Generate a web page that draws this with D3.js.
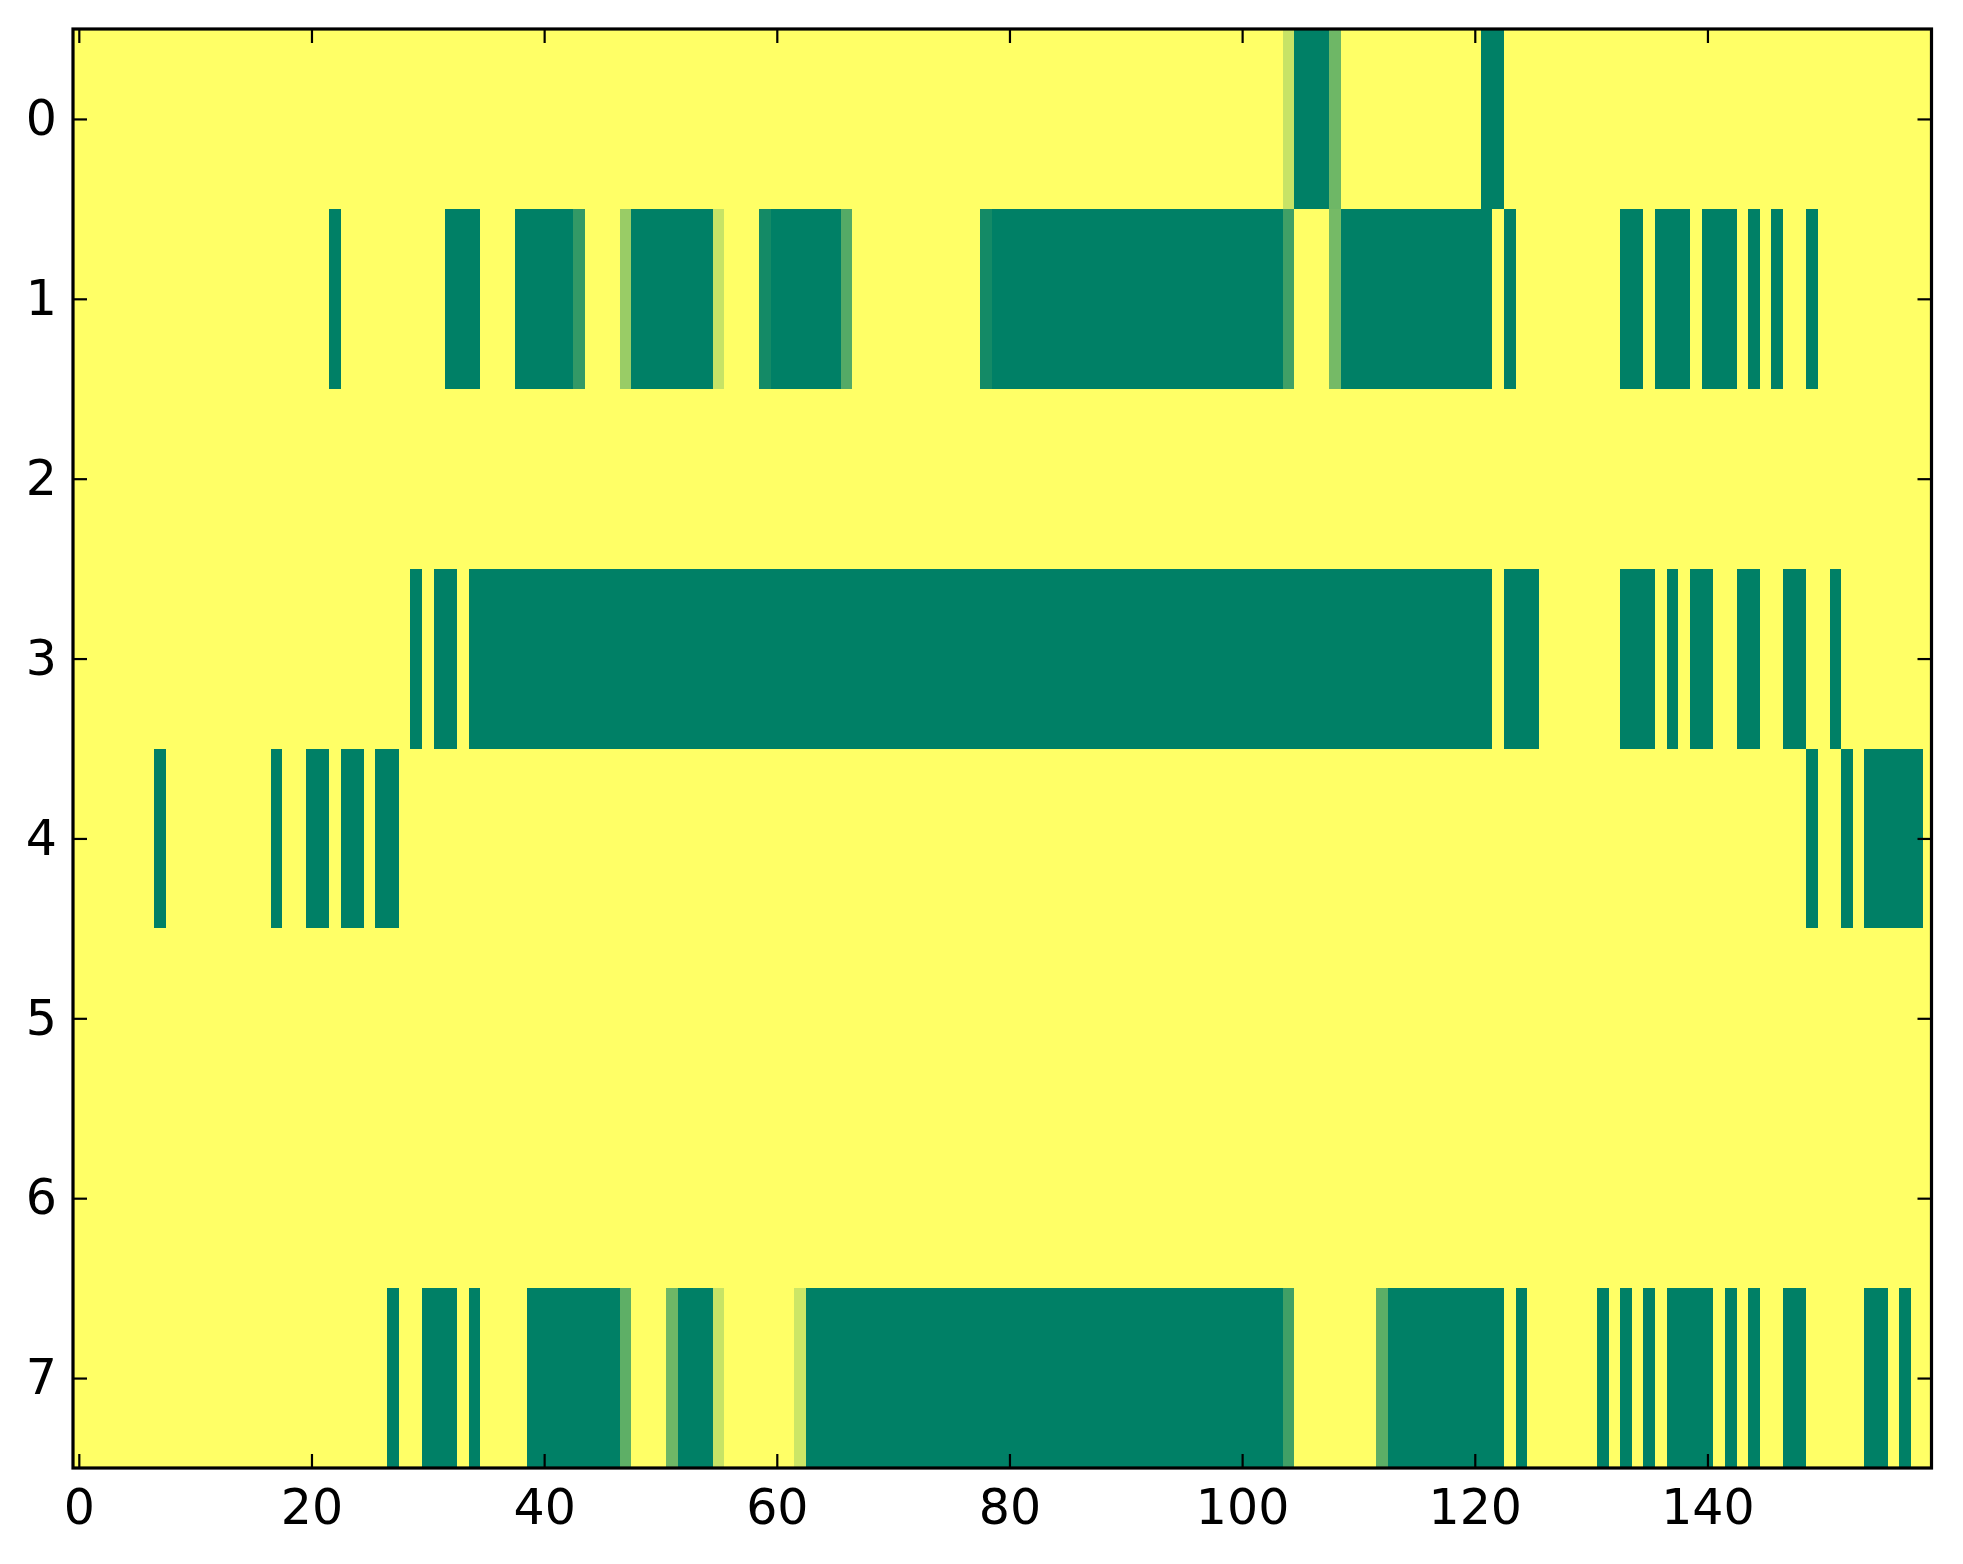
<!DOCTYPE html>
<html>
<head>
<meta charset="utf-8">
<script src="https://cdn.jsdelivr.net/npm/d3@7"></script>
<style>
  html, body { margin: 0; padding: 0; background: #fff; }
  svg { display: block; }
  .tick text { font-family: "DejaVu Sans", sans-serif; font-size: 49px; fill: #000; }
</style>
</head>
<body>
<svg width="1963" height="1564"></svg>
<script>
// cells not listed are 1 (yellow); each run is [firstCol, lastCol, value]
const nCols = 160;
const rowTicks = [0, 1, 2, 3, 4, 5, 6, 7];
const colTicks = [0, 20, 40, 60, 80, 100, 120, 140];

const row0 = [[104, 104, 0.78], [105, 107, 0], [108, 108, 0.43], [121, 122, 0]];
const row1 = [[22, 22, 0], [32, 34, 0], [38, 42, 0], [43, 43, 0.2], [47, 47, 0.6], [48, 54, 0],
  [55, 55, 0.78], [59, 59, 0.08], [60, 65, 0], [66, 66, 0.33], [78, 78, 0.08], [79, 103, 0],
  [104, 104, 0.25], [108, 108, 0.46], [109, 121, 0], [123, 123, 0], [133, 134, 0], [136, 138, 0],
  [140, 142, 0], [144, 144, 0], [146, 146, 0], [149, 149, 0]];
const row2 = [];
const row3 = [[29, 29, 0], [31, 32, 0], [34, 121, 0], [123, 125, 0], [133, 135, 0], [137, 137, 0],
  [139, 140, 0], [143, 144, 0], [147, 148, 0], [151, 151, 0]];
const row4 = [[7, 7, 0], [17, 17, 0], [20, 21, 0], [23, 24, 0], [26, 27, 0], [149, 149, 0],
  [152, 152, 0], [154, 158, 0]];
const row5 = [];
const row6 = [];
const row7 = [[27, 27, 0], [30, 32, 0], [34, 34, 0], [39, 46, 0], [47, 47, 0.37], [51, 51, 0.43],
  [52, 54, 0], [55, 55, 0.78], [62, 62, 0.8], [63, 103, 0], [104, 104, 0.25], [112, 112, 0.36],
  [113, 122, 0], [124, 124, 0], [131, 131, 0], [133, 133, 0], [135, 135, 0], [137, 140, 0],
  [142, 142, 0], [144, 144, 0], [147, 148, 0], [154, 155, 0], [157, 157, 0]];

const rows = [row0, row1, row2, row3, row4, row5, row6, row7];

// build the matrix
const cells = [];
rows.forEach((runs, r) => {
  const vals = new Array(nCols).fill(1);
  runs.forEach(([a, b, v]) => { for (let c = a; c <= b; c++) vals[c] = v; });
  vals.forEach((v, c) => cells.push({ row: r, col: c, value: v }));
});

let svg = d3.select("svg"),
    plotLeft = 73,
    plotRight = 1931.5,
    plotTop = 29,
    plotBottom = 1468;

const x = d3.scaleLinear().domain([-0.5, 159.26]).range([plotLeft, plotRight]);
const y = d3.scaleLinear().domain([-0.5, 7.5]).range([plotTop, plotBottom]);

// matplotlib "summer" is linear in rgb
const color = d3.scaleLinear().domain([0, 1]).range(["#008066", "#ffff66"]);

svg.append("clipPath").attr("id", "plot")
  .append("rect")
    .attr("x", plotLeft).attr("y", plotTop)
    .attr("width", plotRight - plotLeft).attr("height", plotBottom - plotTop);

svg.append("g")
    .attr("clip-path", "url(#plot)")
    .attr("shape-rendering", "crispEdges")
  .selectAll("rect")
  .data(cells)
  .enter().append("rect")
    .attr("x", d => x(d.col - 0.5))
    .attr("y", d => y(d.row - 0.5))
    .attr("width", d => x(d.col + 0.5) - x(d.col - 0.5) + 0.5)
    .attr("height", d => y(d.row + 0.5) - y(d.row - 0.5) + 0.5)
    .attr("fill", d => color(d.value));

const tickLen = 14;

const styleAxis = (g) => {
  g.select(".domain").remove();
  g.selectAll(".tick line").attr("stroke", "#000").attr("stroke-width", 2.2);
};

svg.append("g")
    .attr("transform", `translate(0,${plotBottom})`)
    .call(d3.axisBottom(x).tickValues(colTicks).tickSize(-tickLen).tickPadding(21))
    .call(styleAxis);

svg.append("g")
    .attr("transform", `translate(0,${plotTop})`)
    .call(d3.axisTop(x).tickValues(colTicks).tickSize(-tickLen).tickFormat(""))
    .call(styleAxis);

svg.append("g")
    .attr("transform", `translate(${plotLeft},0)`)
    .call(d3.axisLeft(y).tickValues(rowTicks).tickSize(-tickLen).tickPadding(16))
    .call(styleAxis);

svg.append("g")
    .attr("transform", `translate(${plotRight},0)`)
    .call(d3.axisRight(y).tickValues(rowTicks).tickSize(-tickLen).tickFormat(""))
    .call(styleAxis);

svg.selectAll(".tick text").attr("font-family", null).attr("font-size", null);

// frame
svg.append("rect")
    .attr("x", plotLeft).attr("y", plotTop)
    .attr("width", plotRight - plotLeft).attr("height", plotBottom - plotTop)
    .attr("fill", "none")
    .attr("stroke", "#000")
    .attr("stroke-width", 3.2);
</script>
</body>
</html>
